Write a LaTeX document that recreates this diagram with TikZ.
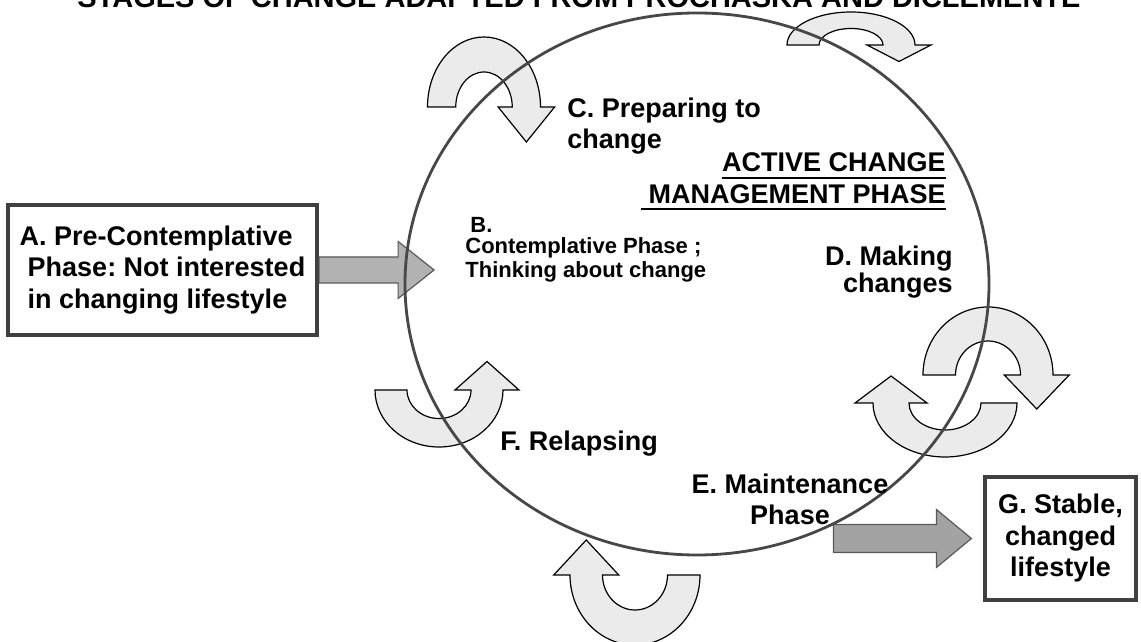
\documentclass[tikz,border=0pt]{standalone}
\usepackage{fontspec}
\setmainfont{Liberation Sans}
\frenchspacing

\newcommand{\ulin}[1]{\leavevmode\setbox0=\hbox{#1}\rlap{\rule[-3.4pt]{\wd0}{1pt}}\box0}

\tikzset{
  bentfill/.style={fill=black!8, draw=black, line width=0.6pt},
  bentarrow/.pic={
    \filldraw[bentfill] (-1,0) arc[start angle=180, end angle=0, radius=1]
      -- (1.25,0) -- (0.75,-0.5) -- (0.25,0) -- (0.5,0)
      arc[start angle=0, end angle=180, radius=0.5] -- cycle;
  }
}

\begin{document}
\begin{tikzpicture}[x=0.5pt, y=0.5pt,
  every node/.style={inner sep=0pt},
  bigtext/.style={font=\bfseries\fontsize{13.5}{15.75}\selectfont},
  smalltext/.style={font=\bfseries\fontsize{11}{12}\selectfont},
  stagebox/.style={draw=black!75, line width=1.6pt, fill=white, bigtext},
  fatarrow/.style={fill=black!30, draw=black!65, line width=0.6pt},
  ring/.style={draw=black!72, line width=1.4pt}]
\useasboundingbox (0,0) rectangle (1141,642);
\clip (0,0) rectangle (1141,642);

\node[font=\bfseries\fontsize{14.5}{16}\selectfont, anchor=base] (title)
  at (579,634.5) {STAGES OF CHANGE ADAPTED FROM PROCHASKA AND DICLEMENTE};

% the two stage boxes outside the cycle
\node[stagebox, minimum width=154.5pt, minimum height=65pt, align=left] (precon)
  at (162.5,372) {A. Pre-Contemplative\\\hspace*{4pt}Phase: Not interested\\\hspace*{4pt}in changing lifestyle};
\node[stagebox, minimum width=75.5pt, minimum height=61.5pt, align=center] (stable)
  at (1060.5,103.5) {G. Stable,\\changed\\lifestyle};

% curved arrows round the cycle
\pic[xscale=56.5, yscale=70] at (484,535) {bentarrow};
\pic[xscale=64, yscale=33] at (851,597) {bentarrow};
\pic[xscale=65, yscale=68] at (988,267) {bentarrow};
\pic[xscale=72, yscale=54, rotate=180] at (945,239) {bentarrow};
\pic[xscale=64, yscale=-57] at (439,252) {bentarrow};
\pic[xscale=65, yscale=70, rotate=180] at (635,67) {bentarrow};

% way in and way out
\draw[fatarrow] (precon.east) ++(0.5,13) -- ++(79,0) -- ++(0,15.5) -- ++(36,-28.5)
  -- ++(-36,-28.5) -- ++(0,15.5) -- ++(-79,0) -- cycle;
\draw[fatarrow, fill=black!36] (stable.west) ++(-12,0) -- ++(-35,29) -- ++(0,-15)
  -- ++(-103,0) -- ++(0,-28) -- ++(103,0) -- ++(0,-15) -- cycle;

\draw[ring] (697,358) ellipse[x radius=292, y radius=271];

% stage labels
\node[bigtext, anchor=north west, align=left] (prep) at (567,544.5) {C. Preparing to\\change};
\node[bigtext, anchor=north east, align=right] (active) at (946,489.5)
  {\ulin{ACTIVE CHANGE}\\\ulin{\ MANAGEMENT PHASE}};
\node[smalltext, anchor=north west, align=left] (contemp) at (465,425)
  {\hspace*{2.5pt}B.\\[-1.5pt]Contemplative Phase ;\\Thinking about change};
\node[bigtext, anchor=north east, align=right, font=\bfseries\fontsize{13.5}{13.5}\selectfont]
  (making) at (953,396.5) {D. Making\\changes};
\node[bigtext, anchor=north west] (relapse) at (500,211.5) {F. Relapsing};
\node[bigtext, anchor=north, align=center] (maint) at (790,168.5) {E. Maintenance\\Phase};
\end{tikzpicture}
\end{document}
